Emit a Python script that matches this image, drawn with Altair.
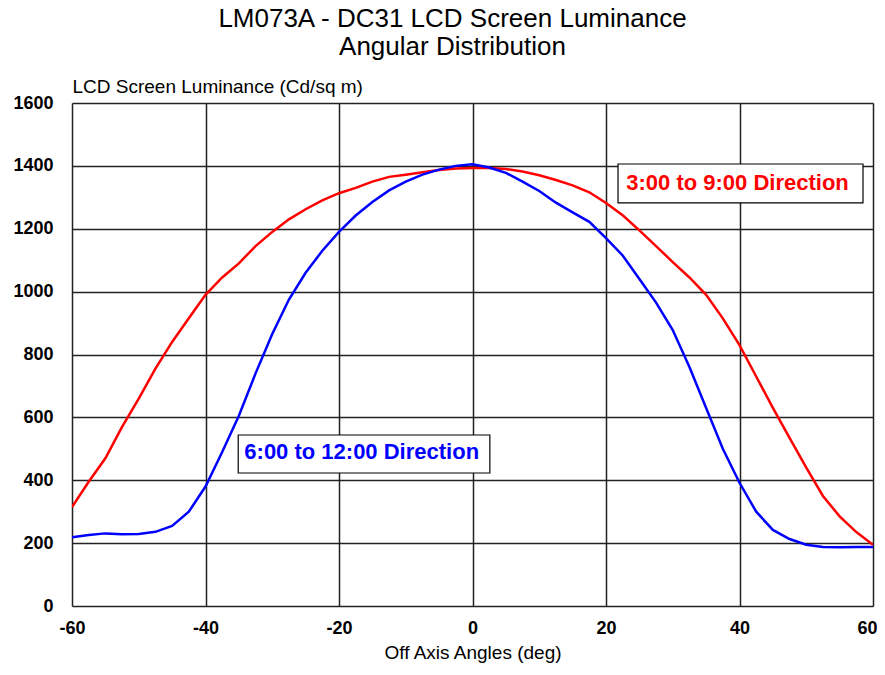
import altair as alt
import pandas as pd

angles = [-60, -57.5, -55, -52.5, -50, -47.5, -45, -42.5, -40, -37.5, -35, -32.5,
          -30, -27.5, -25, -22.5, -20, -17.5, -15, -12.5, -10, -7.5, -5, -2.5,
          0, 2.5, 5, 7.5, 10, 12.5, 15, 17.5, 20, 22.5, 25, 27.5, 30, 32.5,
          35, 37.5, 40, 42.5, 45, 47.5, 50, 52.5, 55, 57.5, 60]

lum_3_9 = [315, 395, 470, 570, 660, 755, 840, 915, 990, 1045, 1090, 1145,
           1190, 1230, 1262, 1290, 1313, 1330, 1350, 1365, 1372, 1380, 1387, 1392,
           1393, 1393, 1390, 1382, 1370, 1355, 1338, 1316, 1282, 1243, 1195, 1145,
           1094, 1045, 990, 915, 830, 730, 630, 535, 440, 350, 285, 235, 195]

lum_6_12 = [219, 226, 231, 228, 229, 236, 255, 300, 380, 490, 605, 740,
            865, 975, 1060, 1130, 1190, 1242, 1285, 1322, 1350, 1372, 1388, 1400,
            1405, 1395, 1378, 1350, 1320, 1283, 1252, 1222, 1170, 1115, 1040, 965,
            878, 760, 630, 500, 392, 300, 242, 213, 195, 188, 187, 188, 188]

series_names = ["3:00 to 9:00 Direction", "6:00 to 12:00 Direction"]
series_colors = ["#FF0000", "#0000FF"]

# label annotations (data coordinates)
label_x = [39.7, -16.6]
label_y = [1345, 490]
box_x = [21.8, -35.1]
box_x2 = [58.5, 2.6]
box_y = [1282, 423]
box_y2 = [1406, 544]

x_ticks = [-60, -40, -20, 0, 20, 40, 60]
y_ticks = [0, 200, 400, 600, 800, 1000, 1200, 1400, 1600]

rows = []
for name, vals in zip(series_names, [lum_3_9, lum_6_12]):
    for a, v in zip(angles, vals):
        rows.append({"angle": a, "lum": v, "series": name})
df = pd.DataFrame(rows)

ann = pd.DataFrame({
    "series": series_names, "lx": label_x, "ly": label_y,
    "bx": box_x, "bx2": box_x2, "by": box_y, "by2": box_y2,
})

FONT = "Liberation Sans"
color_scale = alt.Scale(domain=series_names, range=series_colors)

xscale = alt.Scale(domain=[-60, 60], nice=False, zero=False)
yscale = alt.Scale(domain=[0, 1600], nice=False)

lines = alt.Chart(df).mark_line(strokeWidth=2.5, clip=True).encode(
    x=alt.X("angle:Q", scale=xscale,
            axis=alt.Axis(values=x_ticks, title="Off Axis Angles (deg)",
                          labelExpr="'' + datum.value",
                          labelOffset=alt.condition("datum.value == 60",
                                                    alt.value(-6), alt.value(0)),
                          titleFont=FONT, titleFontSize=19, titleFontWeight="normal",
                          titleColor="black", titleY=46, titleBaseline="middle",
                          labelFont=FONT, labelFontSize=18, labelFontWeight="bold",
                          labelColor="black", labelPadding=13, ticks=False,
                          domain=False, grid=True, gridColor="#222222",
                          gridWidth=1.5, labelFlush=False)),
    y=alt.Y("lum:Q", scale=yscale,
            axis=alt.Axis(values=y_ticks, title="LCD Screen Luminance (Cd/sq m)",
                          labelExpr="'' + datum.value",
                          titleFont=FONT, titleFontSize=19, titleFontWeight="normal",
                          titleColor="black", titleAngle=0, titleX=0, titleY=-17,
                          titleAlign="left", titleBaseline="middle",
                          labelFont=FONT, labelFontSize=18, labelFontWeight="bold",
                          labelColor="black", labelPadding=19, ticks=False,
                          domain=False, grid=True, gridColor="#222222",
                          gridWidth=1.5, labelFlush=False)),
    color=alt.Color("series:N", scale=color_scale, legend=None),
    detail="series:N",
)

boxes = alt.Chart(ann).mark_rect(fill="white", stroke="black", strokeWidth=1.2).encode(
    x=alt.X("bx:Q", scale=xscale), x2="bx2:Q",
    y=alt.Y("by:Q", scale=yscale), y2="by2:Q",
)

labels = alt.Chart(ann).mark_text(font=FONT, fontSize=22, fontWeight="bold",
                                  align="center", baseline="middle").encode(
    x=alt.X("lx:Q", scale=xscale),
    y=alt.Y("ly:Q", scale=yscale),
    text="series:N",
    color=alt.Color("series:N", scale=color_scale, legend=None),
)

chart = alt.layer(lines, boxes, labels).properties(
    width=801, height=503,
    title=alt.TitleParams(
        ["LM073A - DC31 LCD Screen Luminance", "Angular Distribution"],
        font=FONT, fontSize=26, fontWeight="normal", color="black",
        anchor="middle", dx=-20, offset=17, lineHeight=28,
    ),
    autosize=alt.AutoSizeParams(type="none"),
    padding={"left": 64, "top": 95, "right": 4, "bottom": 58},
).configure_view(stroke="black", strokeWidth=2).configure(background="white")

chart.save("out.html", embed_options={"renderer": "svg", "actions": False})
